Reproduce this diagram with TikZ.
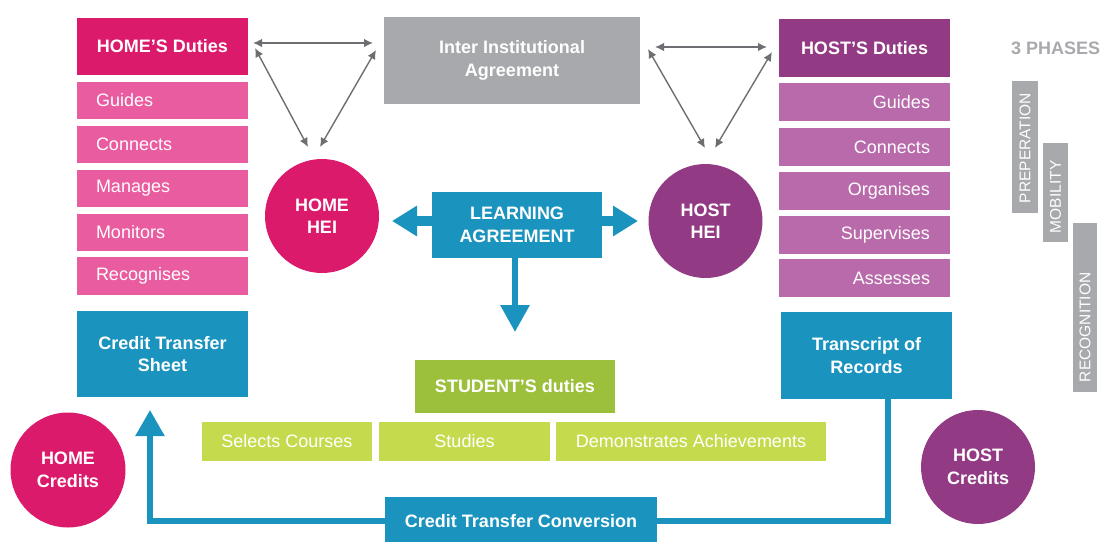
\documentclass[tikz,border=0pt]{standalone}
\usepackage{fontspec}
\setmainfont{Liberation Sans}
\usetikzlibrary{arrows.meta}
\definecolor{homedark}{HTML}{DC1A6C}
\definecolor{homelight}{HTML}{EA5CA0}
\definecolor{hostdark}{HTML}{923B84}
\definecolor{hostlight}{HTML}{B96AAA}
\definecolor{lablue}{HTML}{1A93BF}
\definecolor{agray}{HTML}{A7A9AC}
\definecolor{sgreen}{HTML}{9CC03C}
\definecolor{lgreen}{HTML}{C5DB4D}
\definecolor{arrowgray}{HTML}{6D6E71}
\begin{document}
\begin{tikzpicture}[x=1pt,y=-1pt,
  box/.style={rectangle, inner sep=0pt, draw=none, text=white, align=center,
    font=\fontsize{18}{22.5}\selectfont},
  hdr/.style={box, font=\fontsize{18}{22.5}\selectfont\bfseries},
  litem/.style={box, fill=homelight, minimum height=37.5pt, text width=133pt,
    inner xsep=19pt, align=left},
  ritem/.style={box, fill=hostlight, minimum height=38pt, text width=131pt,
    inner xsep=20pt, align=right},
  greenitem/.style={box, fill=lgreen, minimum height=39pt},
  disc/.style={circle, inner sep=0pt, draw=none, text=white, align=center,
    minimum size=114pt, font=\fontsize{18}{22.5}\selectfont\bfseries},
  phasebar/.style={rectangle, fill=agray, draw=none, inner sep=0pt},
  phasetext/.style={text=white, inner sep=0pt, font=\fontsize{15.5}{18}\selectfont},
  grayarr/.style={draw=arrowgray, line width=1.4pt,
    {Latex[length=9pt,width=8.5pt]}-{Latex[length=9pt,width=8.5pt]}},
  fatarr/.style={draw=lablue, line width=10pt, -{Triangle[length=25pt,width=29pt]}},
  downarr/.style={draw=lablue, line width=6pt, -{Triangle[length=27pt,width=28pt]}},
  flowline/.style={draw=lablue, line width=5.5pt, line join=miter},
  flowarr/.style={flowline, -{Triangle[length=26pt,width=28pt]}}
]
\useasboundingbox (0,0) rectangle (1108,541);

% HOME duties
\node[hdr, fill=homedark, minimum width=171pt, minimum height=57pt] (hd) at (162.5,46.5) {HOME’S Duties};
\node[litem] (h1) at (162.5,100.5) {Guides};
\node[litem] (h2) at (162.5,144.5) {Connects};
\node[litem] (h3) at (162.5,188.5) {Manages};
\node[litem] (h4) at (162.5,232.5) {Monitors};
\node[litem] (h5) at (162.5,276) {Recognises};

% HOST duties
\node[hdr, fill=hostdark, minimum width=171pt, minimum height=58pt] (sd0) at (864.5,48) {HOST’S Duties};
\node[ritem] (s1) at (864.5,102) {Guides};
\node[ritem] (s2) at (864.5,147) {Connects};
\node[ritem] (s3) at (864.5,191) {Organises};
\node[ritem] (s4) at (864.5,235) {Supervises};
\node[ritem] (s5) at (864.5,278) {Assesses};

% Inter institutional agreement
\node[hdr, fill=agray, minimum width=256pt, minimum height=87pt] (iia) at (512,60.5) {Inter Institutional\\Agreement};

% HEIs
\node[disc, fill=homedark] (homehei) at (322,216) {HOME\\HEI};
\node[disc, fill=hostdark] (hosthei) at (705.5,221) {HOST\\HEI};

% Learning agreement
\node[hdr, fill=lablue, minimum width=170pt, minimum height=66pt] (la) at (517,225) {LEARNING\\AGREEMENT};

% Credit transfer sheet / transcript
\node[hdr, fill=lablue, minimum width=171pt, minimum height=86pt] (cts) at (162.5,354) {Credit Transfer\\Sheet};
\node[hdr, fill=lablue, minimum width=171pt, minimum height=87pt] (tor) at (866.5,355.5) {Transcript of\\Records};

% Student duties
\node[hdr, fill=sgreen, minimum width=200pt, minimum height=53pt] (stud) at (515,386.5) {STUDENT’S duties};
\node[greenitem, minimum width=170pt] (g1) at (287,441.5) {Selects Courses};
\node[greenitem, minimum width=171pt] (g2) at (464.5,441.5) {Studies};
\node[greenitem, minimum width=270pt] (g3) at (691,441.5) {Demonstrates Achievements};

% Credit transfer conversion
\node[hdr, fill=lablue, minimum width=272pt, minimum height=48pt] (ctc) at (521,521) {Credit Transfer Conversion};

% Credits
\node[disc, fill=homedark, minimum size=115pt] (homecr) at (68,470) {HOME\\Credits};
\node[disc, fill=hostdark] (hostcr) at (978,467) {HOST\\Credits};

% Phases
\node[anchor=west, inner sep=0pt, text=agray, font=\fontsize{18}{22}\selectfont\bfseries] (ph) at (1011,48) {3 PHASES};
\node[phasebar, minimum width=26pt, minimum height=132pt] (prep) at (1025,147) {};
\node[phasetext, anchor=west, rotate=90] (preptext) at ([yshift=10pt]prep.south) {PREPERATION};
\node[phasebar, minimum width=25pt, minimum height=99pt] (mob) at (1055.5,192.5) {};
\node[phasetext, anchor=west, rotate=90] (mobtext) at ([yshift=9pt]mob.south) {MOBILITY};
\node[phasebar, minimum width=24pt, minimum height=169pt] (rec) at (1085,307.5) {};
\node[phasetext, anchor=west, rotate=90] (rectext) at ([yshift=10pt]rec.south) {RECOGNITION};

% gray triangle arrows (left)
\coordinate (a1) at (253,43);
\coordinate (a2) at (373,43);
\coordinate (b1) at (255,48);
\coordinate (b2) at (308,147);
\coordinate (c1) at (376,50);
\coordinate (c2) at (320,147);
\draw[grayarr] (a1) -- (a2);
\draw[grayarr] (b1) -- (b2);
\draw[grayarr] (c1) -- (c2);
% gray triangle arrows (right)
\coordinate (d1) at (655,47);
\coordinate (d2) at (767,47);
\coordinate (e1) at (648,49);
\coordinate (e2) at (705,148);
\coordinate (f1) at (772,52);
\coordinate (f2) at (715,148);
\draw[grayarr] (d1) -- (d2);
\draw[grayarr] (e1) -- (e2);
\draw[grayarr] (f1) -- (f2);

% learning agreement arrows
\coordinate (laL) at (392,221);
\coordinate (laR) at (638,221);
\coordinate (laD) at (515,332);
\draw[fatarr] (la.west |- laL) -- (laL);
\draw[fatarr] (la.east |- laR) -- (laR);
\draw[downarr] (la.south -| laD) -- (laD);

% bottom flow
\coordinate (torb) at (888,399);
\coordinate (br) at (888,521);
\coordinate (bl) at (150,521);
\coordinate (ctstip) at (150,410);
\draw[flowline] (torb) -- (br) -- (ctc.east);
\draw[flowarr] (ctc.west) -- (bl) -- (ctstip);
\end{tikzpicture}
\end{document}
